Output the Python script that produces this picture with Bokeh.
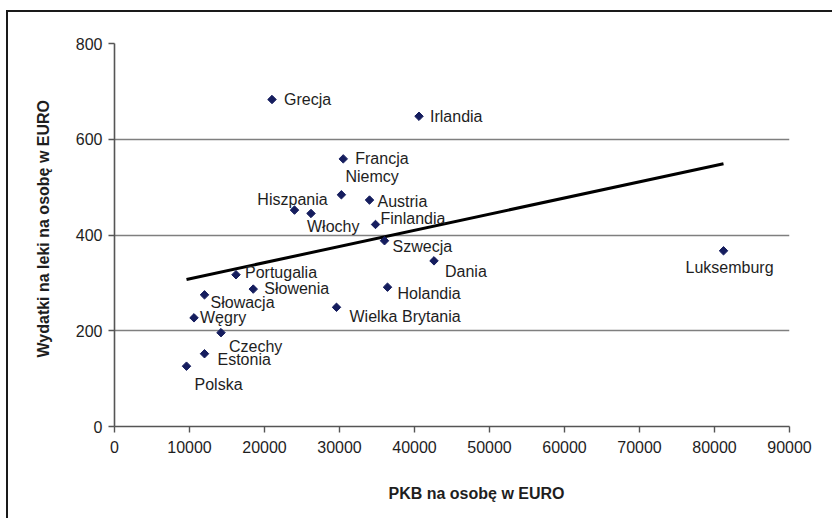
import numpy as np
from bokeh.plotting import figure
from bokeh.models import ColumnDataSource, Range1d, FixedTicker, Title
from bokeh.core.properties import value
from bokeh.embed import file_html
from bokeh.resources import INLINE

# ---- data ----
countries = ["Grecja", "Irlandia", "Francja", "Niemcy", "Austria", "Hiszpania",
             "Włochy", "Finlandia", "Szwecja", "Dania", "Luksemburg",
             "Portugalia", "Słowenia", "Słowacja", "Węgry", "Czechy",
             "Estonia", "Polska", "Holandia", "Wielka Brytania"]
gdp = [21000, 40600, 30500, 30250, 34000, 24000,
       26200, 34800, 36000, 42600, 81200,
       16200, 18500, 12000, 10600, 14200,
       12000, 9600, 36400, 29600]
spend = [683, 648, 559, 484, 473, 452,
         445, 422, 388, 346, 367,
         317, 287, 275, 227, 196,
         152, 126, 291, 249]

x_ticks = [0, 10000, 20000, 30000, 40000, 50000, 60000, 70000, 80000, 90000]
x_tick_labels = ["0", "10000", "20000", "30000", "40000", "50000",
                 "60000", "70000", "80000", "90000"]
y_ticks = [0, 200, 400, 600, 800]
y_tick_labels = ["0", "200", "400", "600", "800"]

x_title = "PKB na osobę w EURO"
y_title = "Wydatki na leki na osobę w EURO"

# ---- label placement (layout only): align, dx, dy in pixels ----
label_layout = {
    "Grecja": ("left", 12, 0), "Irlandia": ("left", 11, 0),
    "Francja": ("left", 12, 0), "Niemcy": ("left", 4, -18),
    "Austria": ("left", 8, 1), "Hiszpania": ("center", -2, -11),
    "Włochy": ("left", -4, 13), "Finlandia": ("left", 5, -6),
    "Szwecja": ("left", 8, 6), "Dania": ("left", 11, 11),
    "Luksemburg": ("center", 6, 17), "Portugalia": ("left", 9, -2),
    "Słowenia": ("left", 11, -1), "Słowacja": ("left", 6, 8),
    "Węgry": ("left", 6, 0), "Czechy": ("left", 8, 14),
    "Estonia": ("left", 13, 6), "Polska": ("left", 8, 18),
    "Holandia": ("left", 10, 6), "Wielka Brytania": ("left", 13, 9),
}

FONT = "Liberation Sans"
TXT = "#1e1e1e"

src = ColumnDataSource(dict(
    x=gdp, y=spend, name=countries,
    align=[label_layout[c][0] for c in countries],
    dx=[label_layout[c][1] for c in countries],
    dy=[label_layout[c][2] for c in countries],
))

p = figure(width=824, height=506, output_backend="svg", toolbar_location=None,
           x_range=Range1d(0, 90000), y_range=Range1d(0, 800),
           min_border_left=106, min_border_right=45,
           min_border_top=31, min_border_bottom=94)
p.margin = (10, 0, 0, 6)
p.styles = {"box-sizing": "content-box", "overflow": "hidden",
            "border-left": "2px solid #1a1a1a",
            "border-top": "2px solid #1a1a1a"}
p.outline_line_color = None
p.background_fill_color = "white"
p.border_fill_color = "white"

# grid
p.xgrid.visible = False
p.ygrid.ticker = FixedTicker(ticks=y_ticks)
p.ygrid.grid_line_color = "#7f7f7f"
p.ygrid.grid_line_width = 1.6

# axes
for ax, ticks, labels in ((p.xaxis[0], x_ticks, x_tick_labels),
                          (p.yaxis[0], y_ticks, y_tick_labels)):
    ax.ticker = FixedTicker(ticks=ticks)
    ax.major_label_overrides = {t: l for t, l in zip(ticks, labels)}
    ax.axis_line_color = "#555555"
    ax.axis_line_width = 1.6
    ax.major_tick_line_color = "#555555"
    ax.major_tick_line_width = 1.4
    ax.major_tick_out = 6
    ax.major_tick_in = 0
    ax.minor_tick_line_color = None
    ax.major_label_text_font = FONT
    ax.major_label_text_font_size = "16px"
    ax.major_label_text_color = TXT
p.xaxis.major_label_standoff = 8
p.yaxis.major_label_standoff = 6

# trend line (linear least squares of the data, as Excel trendline)
slope, intercept = np.polyfit(gdp, spend, 1)
tx = [min(gdp), max(gdp)]
ty = [slope * v + intercept for v in tx]
p.line(tx, ty, line_color="black", line_width=3)

# points
p.scatter("x", "y", source=src, marker="square", angle=np.pi / 4, size=6,
          fill_color="#151d5e", line_color="#151d5e")

# labels
p.text("x", "y", text="name", source=src, x_offset="dx", y_offset="dy",
       text_align="align", text_baseline="middle",
       text_font=value(FONT), text_font_size="16px", text_color=TXT)

# axis titles (leading empty line gives the x title its drop below the axis)
p.add_layout(Title(text="\n" + x_title, align="left", offset=274,
                   vertical_align="bottom", standoff=20,
                   text_font=FONT, text_font_size="16px",
                   text_font_style="bold", text_color=TXT), "below")
p.add_layout(Title(text=y_title, align="left", offset=69,
                   vertical_align="bottom", standoff=42,
                   text_font=FONT, text_font_size="16px",
                   text_font_style="bold", text_color=TXT), "left")

open("out.html", "w").write(file_html(p, INLINE))
